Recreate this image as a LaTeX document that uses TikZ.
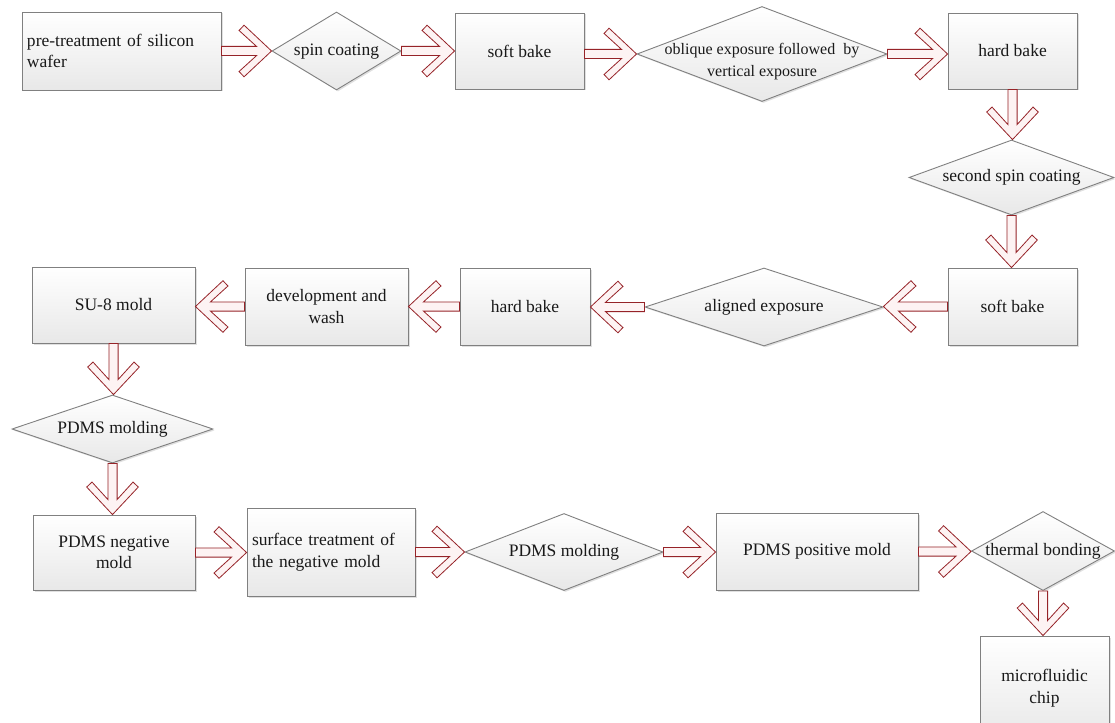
\documentclass[tikz,border=0pt]{standalone}
\usepackage{fontspec}
\setmainfont{Liberation Serif}
\newfontfamily\tnr{Liberation Serif}
\usetikzlibrary{shapes.geometric,calc,shadows}
\definecolor{arrline}{RGB}{150,35,40}
\definecolor{arrfill}{RGB}{253,243,243}
\definecolor{boxline}{RGB}{128,128,128}
\definecolor{boxbot}{RGB}{232,232,232}
\tikzset{
  base/.style={draw=boxline, line width=0.9pt, top color=white, bottom color=boxbot,
    drop shadow={shadow xshift=1.5pt, shadow yshift=-1.5pt, fill=black, opacity=0.12},
    font=\tnr\fontsize{17.5}{21.5}\selectfont, text=black!90},
  box/.style={base, rectangle, align=center, inner sep=4pt},
  dia/.style={base, diamond, inner sep=0pt, aspect=1},
  barrow/.style={draw=arrline, fill=arrfill, line width=0.8pt, line join=miter},
}
\newcommand\dtext[1]{\makebox[0pt]{\begin{tabular}{@{}c@{}}#1\end{tabular}}}
\newcommand\AP[2]{{\x1+\n2*(#1)-\n3*(#2)},{\y1+\n3*(#1)+\n2*(#2)}}
\newcommand\flow[2]{%
  \draw[barrow] let \p1=(#1), \p2=(#2), \n1={veclen(\x2-\x1,\y2-\y1)},
    \n2={(\x2-\x1)/\n1}, \n3={(\y2-\y1)/\n1} in
    (\AP{0}{4.6}) -- (\AP{\n1-15}{4.6}) -- (\AP{\n1-32.5}{20.5}) -- (\AP{\n1-27.5}{25.8})
    -- (\AP{\n1}{0}) -- (\AP{\n1-27.5}{-25.8}) -- (\AP{\n1-32.5}{-20.5})
    -- (\AP{\n1-15}{-4.6}) -- (\AP{0}{-4.6}) -- cycle;}
\begin{document}
\begin{tikzpicture}[x=1pt,y=-1pt]
\fill[white] (0,0) rectangle (1115,722);
\useasboundingbox (0,0) rectangle (1115,722);
% row 1
\node[box, minimum width=199pt, minimum height=78pt, text width=189pt, align=left, inner sep=5pt] (n1) at (121.5,51) {pre-treatment of silicon\\wafer};
\node[dia, minimum width=129pt, minimum height=78pt] (n2) at (336.5,51) {\dtext{spin coating}};
\node[box, minimum width=129pt, minimum height=76pt] (n3) at (519.5,51) {soft bake};
\node[dia, minimum width=250pt, minimum height=95pt, font=\tnr\fontsize{16}{22}\selectfont] (n4) at (762,54) {\raisebox{-11pt}[0pt][0pt]{\dtext{oblique exposure followed \ by\\vertical exposure}}};
\node[box, minimum width=129pt, minimum height=76pt] (n5) at (1012.5,51) {hard bake};
% right column
\node[dia, minimum width=205pt, minimum height=75pt] (n6) at (1011.5,177.5) {\dtext{second spin coating}};
\node[box, minimum width=129pt, minimum height=77pt] (n7) at (1012.5,306.5) {soft bake};
% row 2
\node[dia, minimum width=238pt, minimum height=78pt] (n8) at (764,307) {\dtext{aligned exposure}};
\node[box, minimum width=130pt, minimum height=77pt] (n9) at (525,306.5) {hard bake};
\node[box, minimum width=163pt, minimum height=77pt] (n10) at (326.5,306.5) {development and\\wash};
\node[box, minimum width=163pt, minimum height=76pt] (n11) at (113.5,305) {SU-8 mold};
% left column
\node[dia, minimum width=201pt, minimum height=68pt] (n12) at (112.5,429) {\dtext{PDMS molding}};
% row 3
\node[box, minimum width=162pt, minimum height=75pt] (n13) at (114,552.5) {PDMS negative\\mold};
\node[box, minimum width=168pt, minimum height=88pt, text width=158pt, align=left, inner sep=5pt] (n14) at (331,552) {surface treatment of\\the negative mold};
\node[dia, minimum width=198pt, minimum height=77pt] (n15) at (564,552) {\dtext{PDMS molding}};
\node[box, minimum width=202pt, minimum height=77pt] (n16) at (817,551.5) {PDMS positive mold};
\node[dia, minimum width=143pt, minimum height=79pt] (n17) at (1043,551) {\dtext{thermal bonding}};
\node[box, minimum width=129pt, minimum height=104pt] (n18) at (1044.5,688) {microfluidic\\chip};
% connectors
\flow{n1.east}{n1.east -| n2.west}
\flow{n2.east}{n2.east -| n3.west}
\flow{n4.west -| n3.east}{n4.west}
\flow{n4.east}{n4.east -| n5.west}
\flow{n5.south}{n5.south |- n6.north}
\flow{n6.south}{n6.south |- n7.north}
\flow{n7.west}{n7.west -| n8.east}
\flow{n8.west}{n8.west -| n9.east}
\flow{n9.west}{n9.west -| n10.east}
\flow{n10.west}{n10.west -| n11.east}
\flow{n11.south}{n11.south |- n12.north}
\flow{n12.south}{n12.south |- n13.north}
\flow{n13.east}{n13.east -| n14.west}
\flow{n14.east}{n14.east -| n15.west}
\flow{n15.east}{n15.east -| n16.west}
\flow{n16.east}{n16.east -| n17.west}
\flow{n17.south}{n17.south |- n18.north}
\end{tikzpicture}
\end{document}
